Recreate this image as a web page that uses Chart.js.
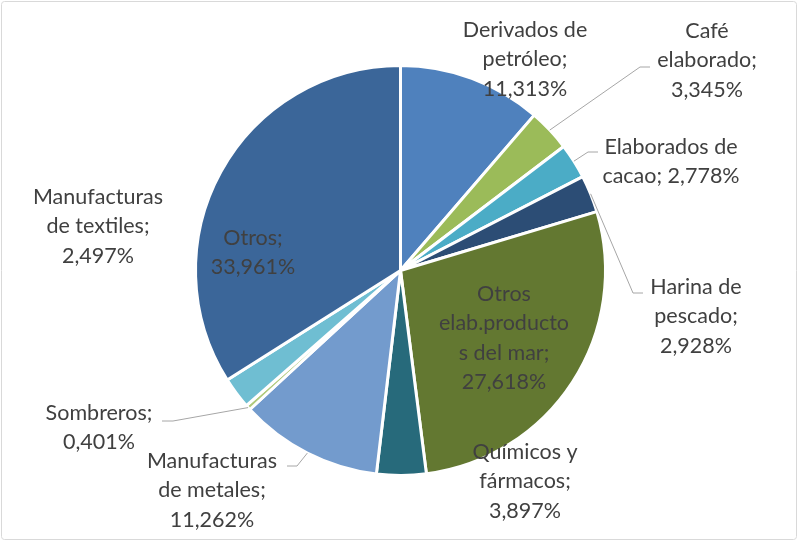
<!DOCTYPE html>
<html>
<head>
<meta charset="utf-8">
<script src="https://cdn.jsdelivr.net/npm/chart.js@4.4.0/dist/chart.umd.min.js"></script>
<style>
  html, body { margin: 0; padding: 0; background: #fff; }
  #wrap { position: relative; width: 798px; height: 541px; }
</style>
</head>
<body>
<div id="wrap"><canvas id="pieCanvas" width="798" height="541"></canvas></div>
<script>
// Data
const categories = [
  'Derivados de petróleo', 'Café elaborado', 'Elaborados de cacao', 'Harina de pescado',
  'Otros elab.productos del mar', 'Químicos y fármacos', 'Manufacturas de metales',
  'Sombreros', 'Manufacturas de textiles', 'Otros'
];
const shares = [11.313, 3.345, 2.778, 2.928, 27.618, 3.897, 11.262, 0.401, 2.497, 33.961];
const sliceColors = [
  '#4f81bd', '#9bbb59', '#4bacc6', '#2c4d75', '#637831',
  '#276a7b', '#739bcd', '#afc97a', '#6fbed2', '#3b6699'
];

// How Excel wrapped each label (name part; value is appended)
const labelNameLines = [
  ['Derivados de', 'petróleo;'],
  ['Café', 'elaborado;'],
  ['Elaborados de', 'cacao;'],
  ['Harina de', 'pescado;'],
  ['Otros', 'elab.producto', 's del mar;'],
  ['Químicos y', 'fármacos;'],
  ['Manufacturas', 'de metales;'],
  ['Sombreros;'],
  ['Manufacturas', 'de textiles;'],
  ['Otros;']
];
const valueOnSameLine = [false, false, true, false, false, false, false, false, false, false];

// label placement: text centre x, first line y, optional leader elbow + end
const labelLayout = [
  { x: 525, y: 30 },
  { x: 707, y: 31, elbow: [640, 67], end: [650, 67] },
  { x: 671, y: 147, elbow: [588, 152], end: [598, 152] },
  { x: 696, y: 287, elbow: [633, 293], end: [643, 293] },
  { x: 504, y: 294 },
  { x: 525, y: 452 },
  { x: 212, y: 461, elbow: [297, 466], end: [287, 466] },
  { x: 99, y: 413, elbow: [173, 421], end: [162, 421] },
  { x: 98, y: 197 },
  { x: 253, y: 238 }
];

const fmt = v => v.toFixed(3).replace('.', ',') + '%';

const frameAndLabels = {
  id: 'frameAndLabels',
  beforeDraw(chart) {
    const ctx = chart.ctx;
    ctx.save();
    ctx.strokeStyle = '#d9d9d9';
    ctx.lineWidth = 1;
    ctx.beginPath();
    ctx.roundRect(1.5, 1.5, chart.width - 3, chart.height - 3, 3);
    ctx.stroke();
    ctx.restore();
  },
  afterDraw(chart) {
    const ctx = chart.ctx;
    const arcs = chart.getDatasetMeta(0).data;
    ctx.save();
    // leader lines
    ctx.strokeStyle = '#a6a6a6';
    ctx.lineWidth = 1;
    arcs.forEach((arc, i) => {
      const lay = labelLayout[i];
      if (!lay.elbow) return;
      const mid = (arc.startAngle + arc.endAngle) / 2;
      const sx = arc.x + Math.cos(mid) * arc.outerRadius;
      const sy = arc.y + Math.sin(mid) * arc.outerRadius;
      ctx.beginPath();
      ctx.moveTo(sx, sy);
      ctx.lineTo(lay.elbow[0], lay.elbow[1]);
      ctx.lineTo(lay.end[0], lay.end[1]);
      ctx.stroke();
    });
    // label text
    ctx.fillStyle = '#404040';
    ctx.font = '21.5px Lato, "Open Sans", sans-serif';
    ctx.textAlign = 'center';
    ctx.textBaseline = 'middle';
    const lineH = 29.5;
    shares.forEach((v, i) => {
      const lines = labelNameLines[i].slice();
      if (valueOnSameLine[i]) lines[lines.length - 1] += ' ' + fmt(v);
      else lines.push(fmt(v));
      lines.forEach((t, k) => ctx.fillText(t, labelLayout[i].x, labelLayout[i].y + k * lineH));
    });
    ctx.restore();
  }
};

new Chart(document.getElementById('pieCanvas').getContext('2d'), {
  type: 'pie',
  data: {
    labels: categories,
    datasets: [{
      data: shares,
      backgroundColor: sliceColors,
      borderColor: '#ffffff',
      borderWidth: 3
    }]
  },
  options: {
    responsive: false,
    animation: false,
    layout: { padding: { top: 64, bottom: 64, left: 3, right: 0 } },
    plugins: {
      legend: { display: false },
      tooltip: { enabled: false }
    }
  },
  plugins: [frameAndLabels]
});
</script>
</body>
</html>
